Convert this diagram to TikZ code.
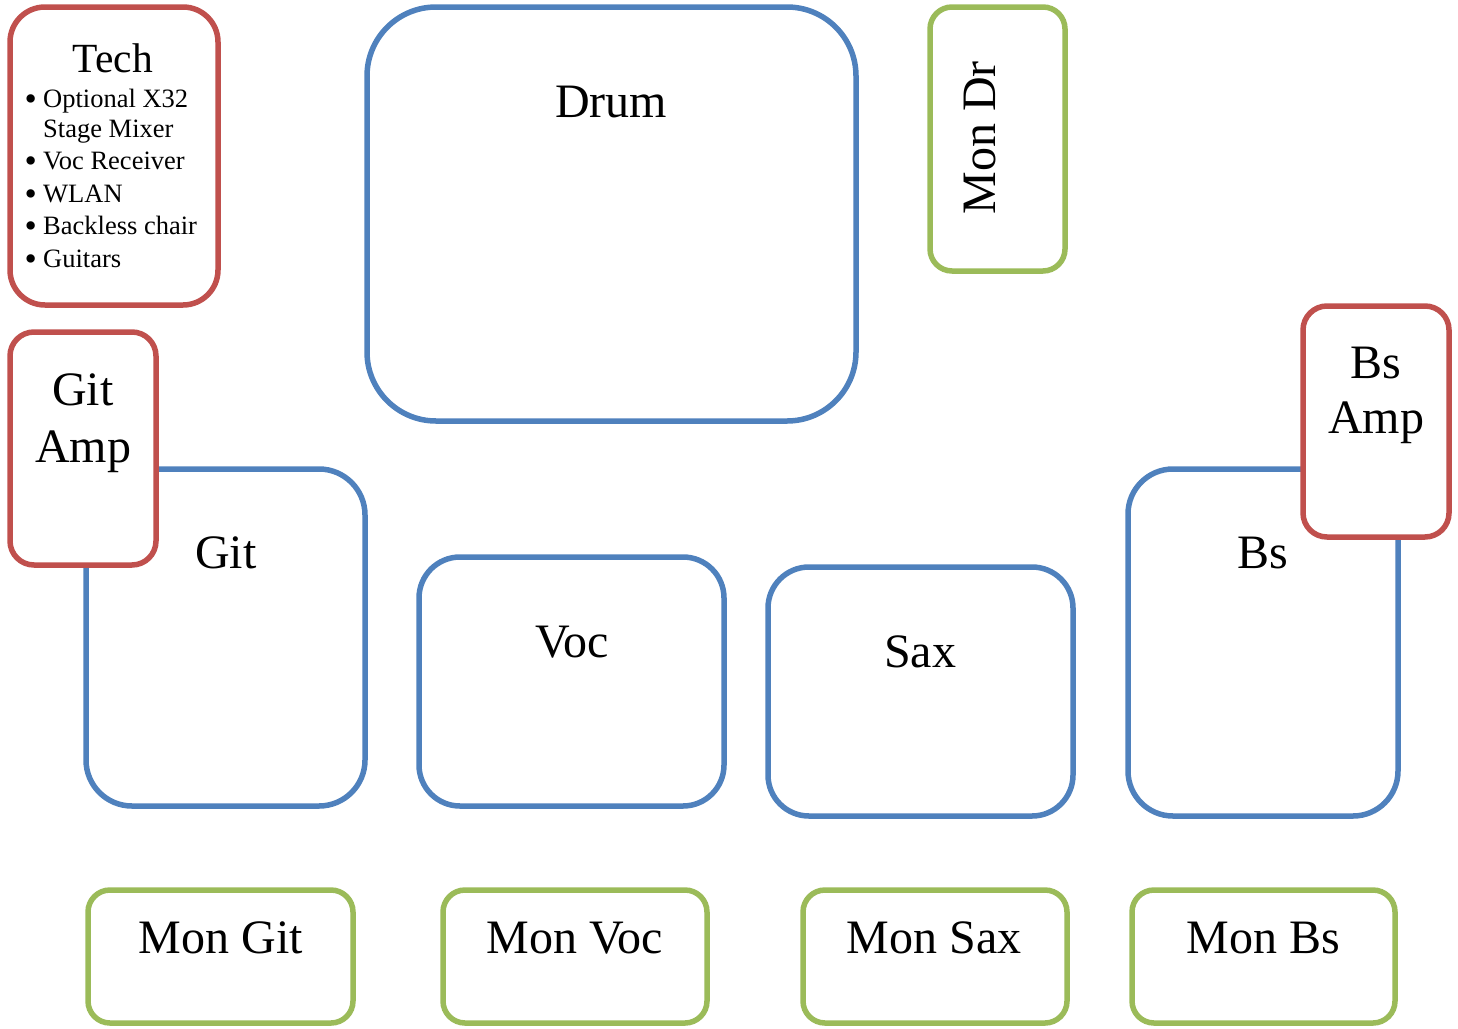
\documentclass[tikz,border=0pt]{standalone}
\usepackage{fontspec}
\setmainfont{Liberation Serif}
\definecolor{pblue}{HTML}{4F81BD}
\definecolor{pred}{HTML}{C0504D}
\definecolor{pgreen}{HTML}{9BBB59}
\newcommand{\stagebullet}{\makebox[18.5pt][l]{\smash{\raisebox{-3.5pt}{\fontsize{35}{35}\selectfont\textbullet}}}}
\tikzset{
  stagebox/.style={draw=#1, line width=5.5pt, fill=white, inner sep=0pt, outer sep=0pt},
  biglabel/.style={font=\fontsize{48}{57}\selectfont, anchor=base, inner sep=0pt},
  techtitle/.style={font=\fontsize{41.5}{50}\selectfont, anchor=base, inner sep=0pt},
  itemtext/.style={font=\fontsize{26.5}{32}\selectfont, anchor=base west, inner sep=0pt}
}
\begin{document}
\begin{tikzpicture}[x=1pt,y=-1pt]
\useasboundingbox (0,0) rectangle (1458,1028);
% Tech
\node[stagebox=pred, minimum width=208pt, minimum height=298pt, rounded corners=35pt] (tech) at (114,156) {};
\node[techtitle] (techlbl) at (113,72) {Tech};
\node[itemtext] (t1) at (24.5,107) {\stagebullet Optional X32};
\node[itemtext] (t1b) at (43,137) {Stage Mixer};
\node[itemtext] (t2) at (24.5,169) {\stagebullet Voc Receiver};
\node[itemtext] (t3) at (24.5,202) {\stagebullet WLAN};
\node[itemtext] (t4) at (24.5,234) {\stagebullet Backless chair};
\node[itemtext] (t5) at (24.5,267) {\stagebullet Guitars};
% Drum
\node[stagebox=pblue, minimum width=489pt, minimum height=414pt, rounded corners=69pt] (drum) at (611.5,214) {};
\node[biglabel] (drumlbl) at (611,117) {Drum};
% Mon Dr
\node[stagebox=pgreen, minimum width=135pt, minimum height=264pt, rounded corners=22pt] (mondr) at (997.5,139) {};
\node[biglabel, rotate=90] (mondrlbl) at (995,138) {Mon Dr};
% Git
\node[stagebox=pblue, minimum width=279pt, minimum height=337pt, rounded corners=46pt] (git) at (225.5,637.5) {};
\node[biglabel] (gitlbl) at (226,568) {Git};
% Git Amp
\node[stagebox=pred, minimum width=146pt, minimum height=233pt, rounded corners=24pt] (gitamp) at (83,448.5) {};
\node[biglabel] (gitamplblA) at (83,405) {Git};
\node[biglabel] (gitamplblB) at (83,462) {Amp};
% Voc
\node[stagebox=pblue, minimum width=305pt, minimum height=249pt, rounded corners=41pt] (voc) at (571.5,681.5) {};
\node[biglabel] (voclbl) at (572,657) {Voc};
% Sax
\node[stagebox=pblue, minimum width=305pt, minimum height=249pt, rounded corners=41pt] (sax) at (920.5,691.5) {};
\node[biglabel] (saxlbl) at (920,667) {Sax};
% Bs
\node[stagebox=pblue, minimum width=270pt, minimum height=347pt, rounded corners=45pt] (bs) at (1263,642.5) {};
\node[biglabel] (bslbl) at (1263,568) {Bs};
% Bs Amp
\node[stagebox=pred, minimum width=146pt, minimum height=231pt, rounded corners=24pt] (bsamp) at (1376,421.5) {};
\node[biglabel] (bsamplblA) at (1376,378) {Bs};
\node[biglabel] (bsamplblB) at (1376,433) {Amp};
% Monitors
\node[stagebox=pgreen, minimum width=265pt, minimum height=133pt, rounded corners=22pt] (mongit) at (220.5,956.5) {};
\node[biglabel] (mongitlbl) at (221,953) {Mon Git};
\node[stagebox=pgreen, minimum width=264pt, minimum height=133pt, rounded corners=22pt] (monvoc) at (575,956.5) {};
\node[biglabel] (monvoclbl) at (575,953) {Mon Voc};
\node[stagebox=pgreen, minimum width=264pt, minimum height=133pt, rounded corners=22pt] (monsax) at (935,956.5) {};
\node[biglabel] (monsaxlbl) at (934,953) {Mon Sax};
\node[stagebox=pgreen, minimum width=263pt, minimum height=133pt, rounded corners=22pt] (monbs) at (1263.5,956.5) {};
\node[biglabel] (monbslbl) at (1263,953) {Mon Bs};
\end{tikzpicture}
\end{document}
